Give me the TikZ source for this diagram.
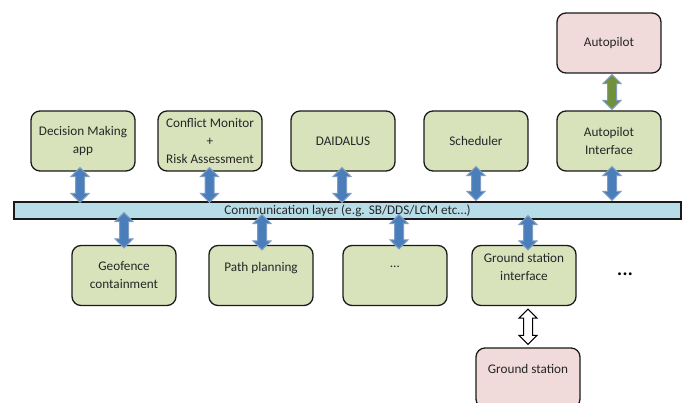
\documentclass[tikz,border=0pt]{standalone}
\usepackage{fontspec}
\setmainfont{Carlito}
\usetikzlibrary{calc}
\definecolor{boxgreen}{HTML}{D8E3BC}
\definecolor{boxpink}{HTML}{F0DBDA}
\definecolor{barblue}{HTML}{B7DDE8}
\definecolor{arrowblue}{HTML}{4A7EBB}
\definecolor{arrowgreen}{HTML}{71903A}
\definecolor{arrowedge}{HTML}{7F9DC4}
\definecolor{outline}{HTML}{1A1A1A}
\tikzset{
  base/.style={draw=outline,line width=1.3pt,rounded corners=9pt,minimum width=104pt,minimum height=60pt,
    align=center,inner sep=0pt,font=\fontsize{13.2pt}{18pt}\selectfont,text=black!85},
  module/.style={base,fill=boxgreen},
  external/.style={base,fill=boxpink},
  bar/.style={draw=outline,line width=1.3pt,fill=barblue,minimum width=667pt,minimum height=17pt,inner sep=0pt,
    font=\fontsize{13.2pt}{14pt}\selectfont,text=black!85},
  blockarrow/.style={draw=arrowedge,line width=1pt,line join=miter,fill=arrowblue},
}
% x position, upper anchor, lower anchor, overshoot of each end (downward positive)
\newcommand{\linkarrow}[6][]{%
  \draw[blockarrow,#1] let \p1=(#3), \p2=(#4) in
    (#2pt,\y1-#5pt) -- ++(9pt,-9pt) -- ++(-4.5pt,0pt)
    -- (#2pt+4.5pt,\y2-#6pt+9pt) -- ++(4.5pt,0pt) -- (#2pt,\y2-#6pt)
    -- ++(-9pt,9pt) -- ++(4.5pt,0pt) -- (#2pt-4.5pt,\y1-#5pt-9pt) -- ++(-4.5pt,0pt) -- cycle;}
\begin{document}
\begin{tikzpicture}[x=1pt,y=-1pt]
\useasboundingbox (0,0) rectangle (685,403);
\clip (0,0) rectangle (685,403);
\node[module] (dec) at (83,141) {Decision Making\\app};
\node[module] (con) at (210,141) {Conflict Monitor\\+\\Risk Assessment};
\node[module] (dai) at (343,141) {DAIDALUS};
\node[module] (sch) at (476,141) {Scheduler};
\node[module] (api) at (609,141) {Autopilot\\Interface};
\node[external] (apt) at (609,43) {Autopilot};
\node[bar] (com) at (347.5,210.5) {Communication layer (e.g. SB/DDS/LCM etc…)};
\node[module] (geo) at (124,275.5) {Geofence\\containment};
\node[module] (pat) at (261,275.5) {Path planning\\ };
\node[module] (dot) at (395,275.5) {…\\ };
\node[module] (gsi) at (524,275.5) {Ground station\\interface\\ };
\node[external] (gst) at (528,378) {Ground station\\ };
\node[font=\fontsize{8pt}{8pt}\selectfont,text=black] (mor) at (625,274.5) {•\kern1.5pt•\kern1.5pt•};
\linkarrow{80}{dec.south}{com.north}{-4}{1}
\linkarrow{209.5}{con.south}{com.north}{-4}{1}
\linkarrow{342}{dai.south}{com.north}{-4}{1}
\linkarrow{476}{sch.south}{com.north}{-5}{-1}
\linkarrow{612}{api.south}{com.north}{-5}{-1}
\linkarrow[fill=arrowgreen]{612}{apt.south}{api.north}{1}{-1}
\linkarrow{124}{com.south}{geo.north}{-7}{3}
\linkarrow{262}{com.south}{pat.north}{-5}{5}
\linkarrow{399}{com.south}{dot.north}{-5}{4}
\linkarrow{528}{com.south}{gsi.north}{-4}{5}
\linkarrow[draw=black,fill=white]{528}{gsi.south}{gst.north}{3}{-3}
\end{tikzpicture}
\end{document}
